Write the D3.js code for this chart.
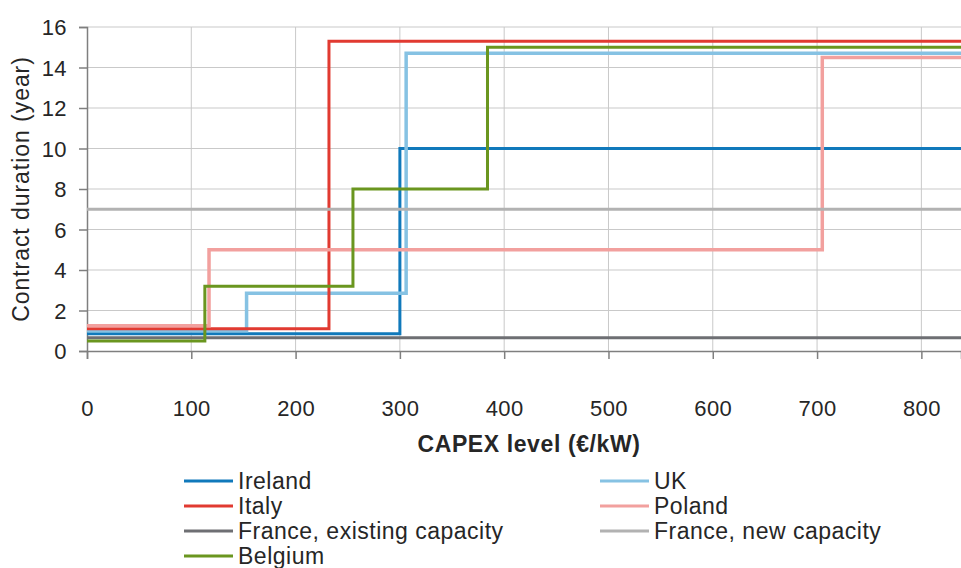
<!DOCTYPE html>
<html>
<head>
<meta charset="utf-8">
<script src="https://cdn.jsdelivr.net/npm/d3@7"></script>
<style>
  html, body { margin: 0; padding: 0; background: #fff; }
  svg { display: block; font-family: "Liberation Sans", Arial, sans-serif; }
</style>
</head>
<body>
<svg id="chart" width="961" height="568"></svg>
<script>
// ---- Data ----
const seriesNames = ["Ireland", "UK", "Italy", "Poland", "France, existing capacity", "France, new capacity", "Belgium"];
const seriesColors = ["#1079bb", "#86c2e3", "#e13a31", "#f2a09e", "#6e6f73", "#b2b2b2", "#6a961f"];
// step breakpoints: CAPEX (€/kW) where each level starts, and contract duration (years)
const irelandX = [0, 300];      const irelandY = [0.85, 10];
const ukX = [0, 153, 306];      const ukY = [1.0, 2.85, 14.7];
const italyX = [0, 232];        const italyY = [1.1, 15.3];
const polandX = [0, 117, 705];  const polandY = [1.25, 5, 14.5];
const franceExX = [0];          const franceExY = [0.65];
const franceNewX = [0];         const franceNewY = [7];
const belgiumX = [0, 113, 255, 384]; const belgiumY = [0.5, 3.2, 8, 15];
const xTicks = [0, 100, 200, 300, 400, 500, 600, 700, 800];
const yTicks = [0, 2, 4, 6, 8, 10, 12, 14, 16];
const xMax = 838;

const seriesX = [irelandX, ukX, italyX, polandX, franceExX, franceNewX, belgiumX];
const seriesY = [irelandY, ukY, italyY, polandY, franceExY, franceNewY, belgiumY];

// ---- Layout ----
const svg = d3.select("#chart");
const pLeft = 87, pRight = 961, pTop = 27, pBottom = 351;

const x = d3.scaleLinear().domain([0, xMax]).range([pLeft, pRight]);
const y = d3.scaleLinear().domain([0, 16]).range([pBottom, pTop]);

// grid
const grid = svg.append("g");
grid.selectAll("line.h").data(yTicks.filter(d => d > 0)).join("line")
  .attr("x1", pLeft).attr("x2", pRight)
  .attr("y1", d => y(d)).attr("y2", d => y(d))
  .attr("stroke", "#c9c9c9").attr("stroke-width", 1);
grid.selectAll("line.v").data(xTicks.filter(d => d > 0)).join("line")
  .attr("x1", d => x(d)).attr("x2", d => x(d))
  .attr("y1", pTop).attr("y2", pBottom)
  .attr("stroke", "#c9c9c9").attr("stroke-width", 1);

// axes
const xAxis = d3.axisBottom(x).tickValues(xTicks).tickSize(8).tickPadding(41).tickFormat(d3.format("d"));
const yAxis = d3.axisLeft(y).tickValues(yTicks).tickSize(8).tickPadding(12).tickFormat(d3.format("d"));

const gx = svg.append("g").attr("transform", `translate(0,${pBottom})`).call(xAxis);
const gy = svg.append("g").attr("transform", `translate(${pLeft},0)`).call(yAxis);
[gx, gy].forEach(g => {
  g.select(".domain").attr("stroke", "#7f7f7f").attr("stroke-width", 1.5);
  g.selectAll(".tick line").attr("stroke", "#7f7f7f").attr("stroke-width", 1.5);
  g.selectAll(".tick text").attr("fill", "#262626").style("font-size", "22px")
    .style("letter-spacing", "0.4px")
    .style("font-family", "'Liberation Sans', Arial, sans-serif");
});
gy.selectAll(".tick text").attr("dy", "0.35em");
gx.selectAll(".tick text").attr("dy", "0.71em");

// axis titles
svg.append("text")
  .attr("transform", `translate(29,${(pTop + pBottom) / 2}) rotate(-90)`)
  .attr("text-anchor", "middle")
  .attr("fill", "#262626").style("font-size", "23px").style("letter-spacing", "0.95px")
  .text("Contract duration (year)");
svg.append("text")
  .attr("x", 529).attr("y", 452)
  .attr("text-anchor", "middle")
  .attr("fill", "#262626").style("font-size", "23px").style("font-weight", "bold")
  .style("letter-spacing", "0.6px")
  .text("CAPEX level (€/kW)");

// series (step-after lines)
const line = d3.line().x(d => x(d[0])).y(d => y(d[1])).curve(d3.curveStepAfter);
const lines = svg.append("g");
seriesNames.forEach((name, i) => {
  const pts = seriesX[i].map((xv, j) => [xv, seriesY[i][j]]);
  pts.push([xMax, seriesY[i][seriesY[i].length - 1]]);
  lines.append("path")
    .datum(pts)
    .attr("d", line)
    .attr("fill", "none")
    .attr("stroke", seriesColors[i])
    .attr("stroke-width", (i === 1 || i === 3) ? 3.5 : 3);
});

// legend
const legend = svg.append("g");
seriesNames.forEach((name, i) => {
  const col = i % 2, row = Math.floor(i / 2);
  const lx = col === 0 ? 184 : 600;
  const ly = 481 + row * 25;
  legend.append("line")
    .attr("x1", lx).attr("x2", lx + 49)
    .attr("y1", ly).attr("y2", ly)
    .attr("stroke", seriesColors[i]).attr("stroke-width", 3);
  legend.append("text")
    .attr("x", lx + 54).attr("y", ly).attr("dy", "0.36em")
    .attr("fill", "#262626").style("font-size", "23px").style("letter-spacing", "0.5px")
    .style("font-family", "'Liberation Sans', Arial, sans-serif")
    .text(name);
});
</script>
</body>
</html>
